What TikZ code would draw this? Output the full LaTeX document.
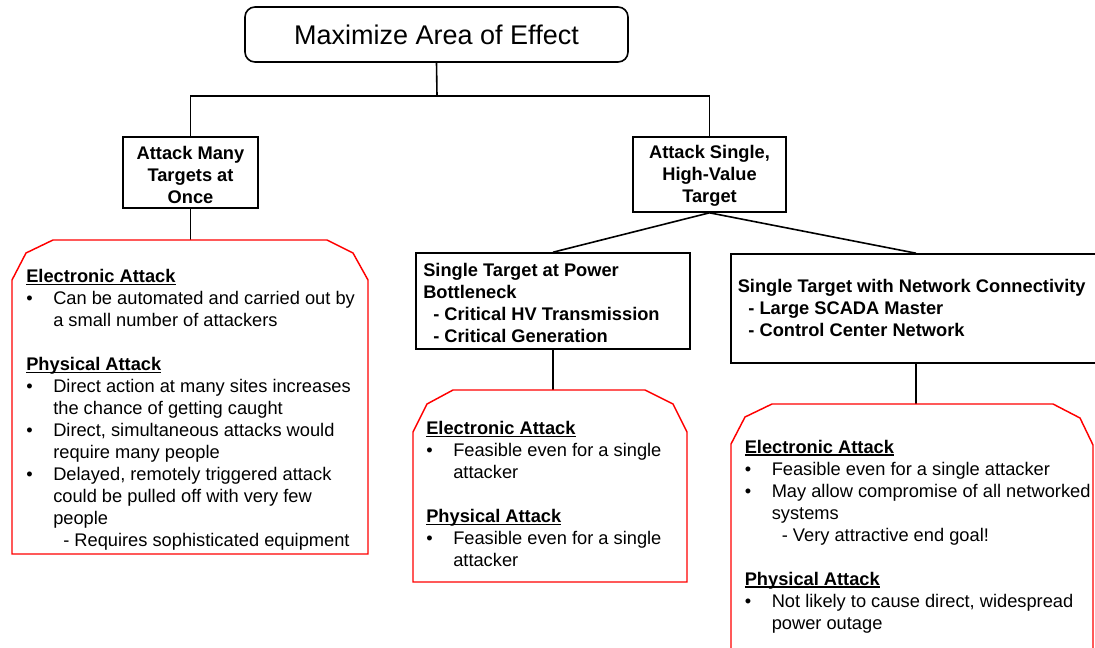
\documentclass[tikz,border=0pt]{standalone}
\usepackage{fontspec}
\setmainfont{Liberation Sans}
\newcommand\bulitem{\makebox[20.25pt][l]{\textbullet}}
\newcommand\contline{\hspace*{20.25pt}}
\newcommand\headul[1]{\sbox0{\textbf{#1}}\rlap{\rule[-1.9pt]{\wd0}{0.9pt}}\usebox0}
\begin{document}
\begin{tikzpicture}[x=0.75pt,y=-0.75pt,
  txt/.style={font=\fontsize{13.7}{16.5}\selectfont},
  blackbox/.style={draw=black,line width=1.2pt,inner sep=0pt,align=center,
    font=\fontsize{13.7}{16.5}\selectfont\bfseries},
  textblock/.style={txt,anchor=north west,inner sep=0pt,align=left},
  redshape/.style={draw=red,line width=1.1pt,line join=miter},
  conn/.style={draw=black,line width=1.2pt}]
\useasboundingbox (0,0) rectangle (1095,647);
\clip (0,0) rectangle (1095,647);

% top node
\node[draw=black,line width=1.2pt,rounded corners=7.5pt,minimum width=383*0.75pt,
  minimum height=55*0.75pt,inner sep=0pt,font=\fontsize{20.25}{24}\selectfont]
  (title) at (436.5,34.5) {Maximize Area of Effect};

% level 1
\node[blackbox,minimum width=135*0.75pt,minimum height=71*0.75pt] (many) at (190.5,172.5)
  {\rule{0pt}{13pt}Attack Many\\Targets at\\Once};
\node[blackbox,minimum width=153*0.75pt,minimum height=75*0.75pt] (single) at (709.5,174.5)
  {\rule{0pt}{12pt}Attack Single,\\High-Value\\Target};

% level 2 boxes
\node[blackbox,minimum width=274*0.75pt,minimum height=96*0.75pt] (power) at (553,301) {};
\node[blackbox,minimum width=370*0.75pt,minimum height=109*0.75pt] (net) at (916,308.5) {};

\node[textblock,font=\fontsize{13.7}{16.5}\selectfont\bfseries] (powertxt) at (423,263)
  {Single Target at Power\\Bottleneck\\\hspace*{7.5pt}- Critical HV Transmission\\\hspace*{7.5pt}- Critical Generation};
\node[textblock,font=\fontsize{13.7}{16.5}\selectfont\bfseries] (nettxt) at (737.5,279)
  {Single Target with Network Connectivity\\\hspace*{8pt}- Large SCADA Master\\\hspace*{8pt}- Control Center Network};

% connector coordinates
\coordinate (bar) at (437,96);
\coordinate (r1) at (190.5,240);
\coordinate (r2) at (553,390);
\coordinate (r3) at (916,404);

\draw[conn] (title.south) -- (bar);
\draw[conn] (many.north) |- (bar) -| (single.north);
\draw[conn] (many.south) -- (r1);
\draw[conn] (single.south) -- (power.north);
\draw[conn] (single.south) -- (net.north);
\draw[conn] (power.south) -- (r2);
\draw[conn] (net.south) -- (r3);

% red shapes
\draw[redshape] (53,240) -- (327,240) -- (353,253) -- (368,280) -- (368,554) -- (12,554)
  -- (12,280) -- (26,253) -- cycle;
\draw[redshape] (453,390) -- (645,390) -- (673,404) -- (687,432) -- (687,582) -- (413,582)
  -- (413,432) -- (427,404) -- cycle;
\draw[redshape] (772,404) -- (1053,404) -- (1080,418) -- (1093,445) -- (1093,670) -- (731,670)
  -- (731,444) -- (745,417) -- cycle;

% red box texts
\node[textblock] (e1) at (26,269) {\headul{Electronic Attack}\\
\bulitem Can be automated and carried out by\\
\contline a small number of attackers\\[16.5pt]
\headul{Physical Attack}\\
\bulitem Direct action at many sites increases\\
\contline the chance of getting caught\\
\bulitem Direct, simultaneous attacks would\\
\contline require many people\\
\bulitem Delayed, remotely triggered attack\\
\contline could be pulled off with very few\\
\contline people\\
\contline\hspace*{7.5pt}- Requires sophisticated equipment};

\node[textblock] (e2) at (426,421) {\headul{Electronic Attack}\\
\bulitem Feasible even for a single\\
\contline attacker\\[16.5pt]
\headul{Physical Attack}\\
\bulitem Feasible even for a single\\
\contline attacker};

\node[textblock] (e3) at (744.5,439.5) {\headul{Electronic Attack}\\
\bulitem Feasible even for a single attacker\\
\bulitem May allow compromise of all networked\\
\contline systems\\
\contline\hspace*{7.5pt}- Very attractive end goal!\\[16.5pt]
\headul{Physical Attack}\\
\bulitem Not likely to cause direct, widespread\\
\contline power outage};
\end{tikzpicture}
\end{document}
